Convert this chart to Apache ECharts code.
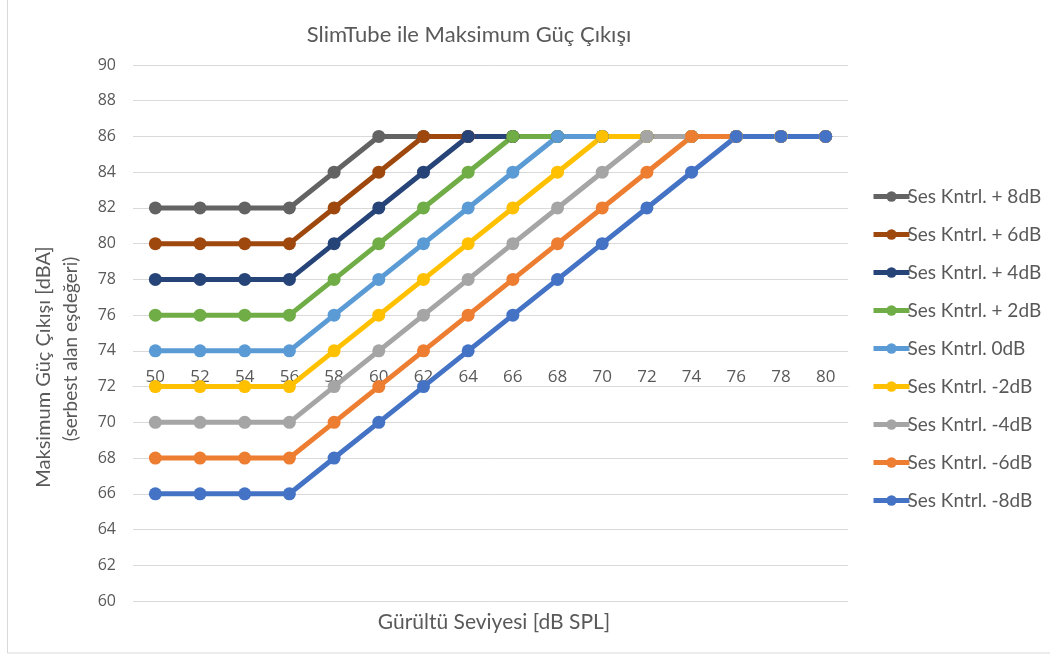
<!DOCTYPE html>
<html>
<head>
    <meta charset="utf-8">
    <title>SlimTube ile Maksimum Güç Çıkışı</title>
    <script src="https://cdn.jsdelivr.net/npm/echarts@6/dist/echarts.min.js"></script>
    <style>
        html, body { margin: 0; padding: 0; background: #fff; }
        #chart1 { width: 1050px; height: 655px; }
    </style>
</head>
<body>
<div id="chart1"></div>

<script type="text/javascript">
    // gürültü seviyesi (x ekseni)
    var levels = ['50','52','54','56','58','60','62','64','66','68','70','72','74','76','78','80'];

    var seriesNames = ['Ses Kntrl. + 8dB','Ses Kntrl. + 6dB','Ses Kntrl. + 4dB','Ses Kntrl. + 2dB',
        'Ses Kntrl. 0dB','Ses Kntrl. -2dB','Ses Kntrl. -4dB','Ses Kntrl. -6dB','Ses Kntrl. -8dB'];

    var plus8  = [82,82,82,82,84,86,86,86,86,86,86,86,86,86,86,86];
    var plus6  = [80,80,80,80,82,84,86,86,86,86,86,86,86,86,86,86];
    var plus4  = [78,78,78,78,80,82,84,86,86,86,86,86,86,86,86,86];
    var plus2  = [76,76,76,76,78,80,82,84,86,86,86,86,86,86,86,86];
    var zero   = [74,74,74,74,76,78,80,82,84,86,86,86,86,86,86,86];
    var minus2 = [72,72,72,72,74,76,78,80,82,84,86,86,86,86,86,86];
    var minus4 = [70,70,70,70,72,74,76,78,80,82,84,86,86,86,86,86];
    var minus6 = [68,68,68,68,70,72,74,76,78,80,82,84,86,86,86,86];
    var minus8 = [66,66,66,66,68,70,72,74,76,78,80,82,84,86,86,86];

    var allData = [plus8, plus6, plus4, plus2, zero, minus2, minus4, minus6, minus8];
    var colors = ['#636363','#9E480E','#264478','#70AD47','#5B9BD5','#FFC000','#A5A5A5','#ED7D31','#4472C4'];

    var textColor = '#595959';
    var gridColor = '#d9d9d9';

    var series = [];
    for (var i = 0; i < allData.length; i++) {
        series.push({
            name: seriesNames[i],
            type: 'line',
            data: allData[i],
            symbol: 'circle',
            symbolSize: 13,
            lineStyle: { width: 5, color: colors[i] },
            itemStyle: { color: colors[i] }
        });
    }

    var myChart1 = echarts.init(document.getElementById('chart1'));
    myChart1.setOption({
        animation: false,
        color: colors,
        title: {
            text: 'SlimTube ile Maksimum Güç Çıkışı',
            left: 464,
            textAlign: 'center',
            top: 19,
            textStyle: { color: textColor, fontSize: 22, fontWeight: 'normal', fontFamily: 'Lato' }
        },
        legend: {
            orient: 'vertical',
            left: 866,
            top: 182,
            itemWidth: 36,
            itemHeight: 13,
            itemGap: 19,
            data: seriesNames,
            lineStyle: { width: 5 },
            textStyle: { color: textColor, fontSize: 19, fontFamily: 'Lato', padding: [0, 0, 0, -7] }
        },
        grid: { left: 133, right: 202, top: 65, bottom: 54 },
        xAxis: {
            type: 'category',
            data: levels,
            boundaryGap: true,
            offset: -214.4,
            axisLine: { show: true, lineStyle: { color: gridColor, width: 1 } },
            axisTick: { show: false },
            axisLabel: { inside: true, margin: 1, color: textColor, fontSize: 17, fontFamily: 'Open Sans' }
        },
        yAxis: {
            type: 'value',
            min: 60,
            max: 90,
            interval: 2,
            axisLine: { show: false },
            axisTick: { show: false },
            axisLabel: { margin: 17, color: textColor, fontSize: 16, fontFamily: 'Open Sans' },
            splitLine: { lineStyle: { color: gridColor, width: 1 } }
        },
        graphic: [
            {
                type: 'rect',
                silent: true,
                shape: { x: 7.5, y: -1, width: 1060, height: 654 },
                style: { fill: 'none', stroke: gridColor, lineWidth: 1 }
            },
            {
                type: 'text',
                x: 494, y: 622,
                style: {
                    text: 'Gürültü Seviyesi [dB SPL]',
                    fill: textColor, font: '21px Lato',
                    textAlign: 'center', textVerticalAlign: 'middle'
                }
            },
            {
                type: 'text',
                x: 44, y: 367,
                rotation: Math.PI / 2,
                style: {
                    text: 'Maksimum Güç Çıkışı [dBA]',
                    fill: textColor, font: '20px Lato',
                    textAlign: 'center', textVerticalAlign: 'middle'
                }
            },
            {
                type: 'text',
                x: 71, y: 349,
                rotation: Math.PI / 2,
                style: {
                    text: '(serbest alan eşdeğeri)',
                    fill: textColor, font: '19px Lato',
                    textAlign: 'center', textVerticalAlign: 'middle'
                }
            }
        ],
        series: series
    });
</script>
</body>
</html>
